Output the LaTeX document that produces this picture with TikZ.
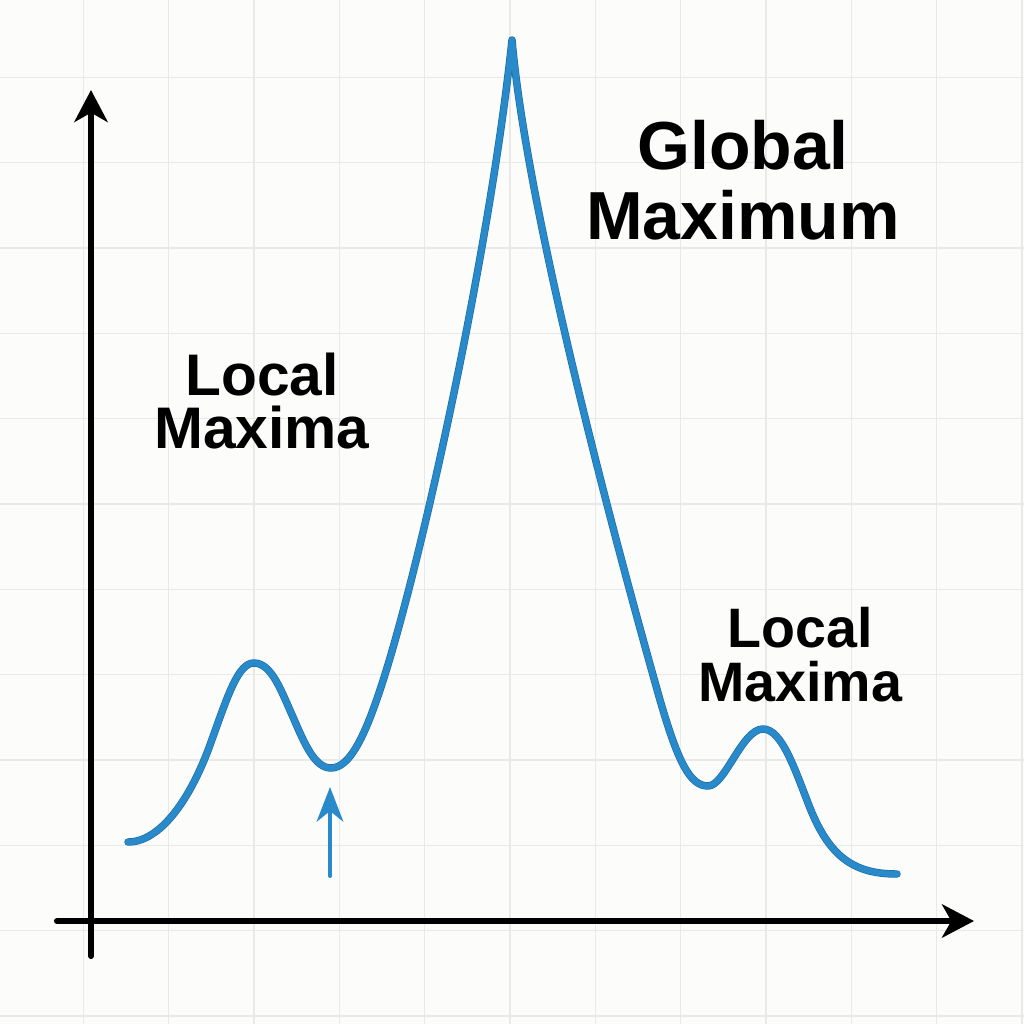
\documentclass[tikz,border=0pt]{standalone}
\usepackage{fontspec}
\setmainfont{Liberation Sans}
\usetikzlibrary{arrows.meta}
\definecolor{bgc}{RGB}{252,252,250}
\definecolor{gridc}{RGB}{233,233,233}
\definecolor{curvec}{RGB}{40,138,202}
\definecolor{curveedge}{RGB}{30,108,160}
\begin{document}
\begin{tikzpicture}[x=0.75pt,y=-0.75pt,
  gridline/.style={draw=gridc, line width=1.1pt},
  axisline/.style={draw=black, line width=4.6pt, line cap=round,
    -{Stealth[length=24pt,width=25pt,inset=7pt]}},
  curveline/.style={draw=curvec, line width=4.6pt, line cap=round, line join=round,
    preaction={draw=curveedge, line width=5.6pt, line cap=round, line join=round}},
  pointer/.style={draw=curvec, line width=3pt, line cap=round,
    -{Stealth[length=26pt,width=20pt,inset=8pt]}},
  lbl/.style={inner sep=0pt, align=center, text=black}
]
\useasboundingbox (0,0) rectangle (1024,1024);
\fill[bgc] (0,0) rectangle (1024,1024);
% grid
\foreach \k in {1,...,12} {
  \draw[gridline] ({85.333*\k-2},0) -- ({85.333*\k-2},1024);
  \draw[gridline] (0,{85.333*\k-8}) -- (1024,{85.333*\k-8});
}
% axes
\coordinate (ybot) at (91,956);
\coordinate (ytop) at (91,90);
\coordinate (xleft) at (57,921);
\coordinate (xright) at (974,921);
\draw[axisline] (ybot) -- (ytop);
\draw[axisline] (xleft) -- (xright);
% curve
\coordinate (c0) at (128,842);
\coordinate (c1) at (210,745);
\coordinate (peakL) at (254,663);
\coordinate (c2) at (293,717);
\coordinate (minL) at (331,768);
\coordinate (c3) at (380,690);
\coordinate (top) at (512,40);
\coordinate (c4) at (660,700);
\coordinate (minR) at (708,786);
\coordinate (peakR) at (763,729);
\coordinate (c5) at (810,808);
\coordinate (cend) at (897,874);
\draw[curveline] (c0)
  .. controls (160,842) and (190,800) .. (c1)
  .. controls (228,695) and (238,663) .. (peakL)
  .. controls (272,663) and (282,693) .. (c2)
  .. controls (305,745) and (315,768) .. (minL)
  .. controls (350,768) and (365,735) .. (c3)
  .. controls (420,570) and (490,250) .. (top)
  .. controls (525,190) and (595,470) .. (c4)
  .. controls (678,762) and (690,786) .. (minR)
  .. controls (725,786) and (742,729) .. (peakR)
  .. controls (782,729) and (795,770) .. (c5)
  .. controls (830,858) and (855,874) .. (cend);
% pointer arrow
\coordinate (pbot) at (330,876);
\coordinate (ptip) at (330,787);
\draw[pointer] (pbot) -- (ptip);
% labels
\node[lbl, font=\bfseries\fontsize{51}{52.5}\selectfont] (global) at (743,180.5) {Global\\Maximum};
\node[lbl, font=\bfseries\fontsize{44}{40}\selectfont] (localL) at (262,401) {Local\\Maxima};
\node[lbl, font=\bfseries\fontsize{41.7}{41}\selectfont] (localR) at (800,654.5) {Local\\Maxima};
\end{tikzpicture}
\end{document}
